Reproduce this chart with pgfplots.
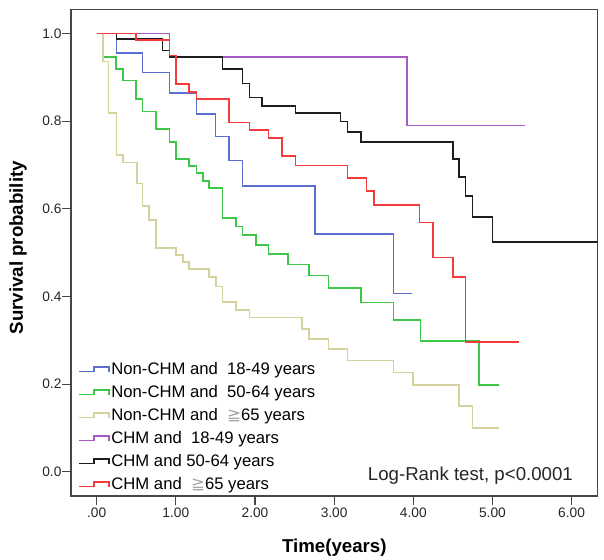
\documentclass[border=0pt]{standalone}
\usepackage{pgfplots}
\pgfplotsset{compat=1.18}
\usepackage{fontspec}
\setmainfont{Liberation Sans}
\newfontfamily\symfont{DejaVu Sans}
\definecolor{kmblue}{RGB}{90,112,208}
\definecolor{kmgreen}{RGB}{60,200,70}
\definecolor{kmyellow}{RGB}{214,210,160}
\definecolor{kmpurple}{RGB}{166,92,196}
\definecolor{kmblack}{RGB}{30,30,30}
\definecolor{kmred}{RGB}{245,60,60}
\definecolor{framec}{RGB}{70,70,70}
\newcommand{\geqq}{{\color{gray!70}\symfont ≧}}
\begin{document}
\begin{tikzpicture}
\useasboundingbox (-53.25pt,-48pt) rectangle (399.75pt,372pt);
\begin{axis}[
  at={(0pt,0pt)}, anchor=south west,
  scale only axis, width=395pt, height=365pt,
  xmin=-0.325, xmax=6.33, ymin=-0.055, ymax=1.055,
  axis line style={framec, line width=0.9pt},
  xtick={0,1,2,3,4,5,6},
  xticklabels={.00,1.00,2.00,3.00,4.00,5.00,6.00},
  ytick={0,0.2,0.4,0.6,0.8,1.0},
  yticklabels={0.0,0.2,0.4,0.6,0.8,1.0},
  xtick pos=left, ytick pos=left, tick align=outside,
  major tick length=6.5pt,
  tick style={framec, line width=0.9pt},
  ticklabel style={font=\fontsize{10.3}{12}\selectfont, text=black!85},
  yticklabel style={inner sep=0.5pt},
  xticklabel style={inner sep=2.5pt},
  xlabel={Time(years)}, ylabel={Survival probability},
  every axis x label/.style={at={(axis description cs:0.5,-0.107)}, anchor=center, font=\fontsize{14}{16}\selectfont\bfseries},
  every axis y label/.style={at={(axis description cs:-0.1006,0.51)}, rotate=90, anchor=center, font=\fontsize{14}{16}\selectfont\bfseries},
  legend image code/.code={\draw[#1] (0pt,-1pt) -- (11pt,-1pt) -- (11pt,2.5pt) -- (22.5pt,2.5pt) -- (22.5pt,-1.5pt);},
  legend cell align=left,
  legend style={draw=none, fill=none, at={(rel axis cs:0.006,-0.003)}, anchor=south west,
    font=\fontsize{12.5}{14}\selectfont, row sep=3.25pt,
    nodes={inner sep=1pt, text height=9pt, text depth=3pt},
    /tikz/every even column/.append style={column sep=1.5pt}},
  every axis plot/.append style={const plot, line width=1.25pt},
]
\addplot[kmblue] coordinates {(0,1) (0.25,0.956) (0.58,0.911) (0.92,0.864) (1.26,0.816) (1.50,0.765) (1.67,0.710) (1.84,0.652) (2.76,0.543) (3.75,0.407) (3.99,0.407)};
\addlegendentry{Non-CHM and\ \ 18-49 years}
\addplot[kmgreen] coordinates {(0,1) (0.08,0.947) (0.245,0.919) (0.33,0.893) (0.50,0.851) (0.58,0.822) (0.75,0.782) (0.92,0.753) (1.00,0.713) (1.17,0.698) (1.26,0.681) (1.34,0.664) (1.42,0.647) (1.59,0.579) (1.76,0.560) (1.84,0.540) (2.01,0.518) (2.17,0.497) (2.42,0.473) (2.68,0.448) (2.93,0.420) (3.34,0.386) (3.75,0.347) (4.09,0.299) (4.83,0.198) (5.08,0.198)};
\addlegendentry{Non-CHM and\ \ 50-64 years}
\addplot[kmyellow] coordinates {(0,1) (0.08,0.936) (0.15,0.818) (0.25,0.723) (0.33,0.706) (0.51,0.658) (0.58,0.607) (0.66,0.575) (0.75,0.510) (1.00,0.495) (1.09,0.478) (1.17,0.462) (1.42,0.445) (1.51,0.423) (1.59,0.387) (1.76,0.369) (1.93,0.352) (2.59,0.326) (2.68,0.303) (2.93,0.280) (3.17,0.254) (3.75,0.227) (4.00,0.198) (4.58,0.151) (4.75,0.100) (5.08,0.100)};
\addlegendentry{Non-CHM and\ \ \geqq65 years}
\addplot[kmpurple] coordinates {(0,1) (0.92,0.947) (3.92,0.79) (5.41,0.79)};
\addlegendentry{CHM and\ \ 18-49 years}
\addplot[kmblack] coordinates {(0,1) (0.25,0.987) (0.83,0.961) (0.92,0.947) (1.59,0.919) (1.84,0.886) (1.93,0.854) (2.09,0.835) (2.51,0.818) (3.08,0.799) (3.17,0.775) (3.34,0.752) (4.50,0.713) (4.58,0.673) (4.66,0.629) (4.75,0.582) (5.00,0.525) (6.33,0.525)};
\addlegendentry{CHM and 50-64 years}
\addplot[kmred] coordinates {(0,1) (0.50,0.985) (0.92,0.950) (1.00,0.884) (1.17,0.867) (1.26,0.851) (1.67,0.797) (1.93,0.780) (2.17,0.762) (2.34,0.721) (2.51,0.699) (3.17,0.670) (3.41,0.641) (3.50,0.609) (4.08,0.569) (4.25,0.489) (4.50,0.444) (4.66,0.296) (5.33,0.296)};
\addlegendentry{CHM and\ \ \geqq65 years}
\node[anchor=east, inner sep=0pt, font=\fontsize{14}{16}\selectfont, text=black!85] at (axis cs:6.02,-0.008) {Log-Rank test, p<0.0001};
\end{axis}
\end{tikzpicture}
\end{document}
